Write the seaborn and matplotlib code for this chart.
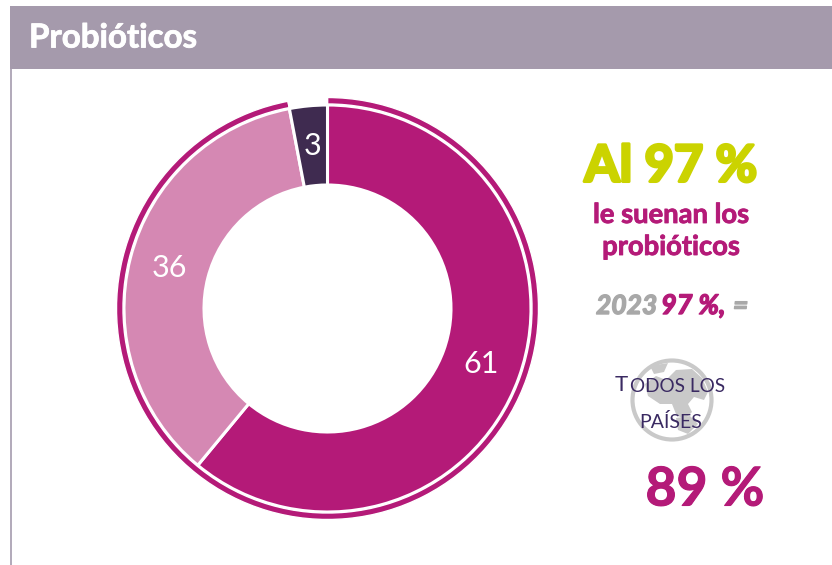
import matplotlib
matplotlib.use("Agg")
import matplotlib.pyplot as plt
import matplotlib.patheffects as pe
from matplotlib.patches import Rectangle, Circle, Polygon
import seaborn as sns

sns.set_theme(style="white")
plt.rcParams['font.family'] = ['Lato', 'DejaVu Sans']

# data
segment_labels = ["61", "36", "3"]
segment_values = [61, 36, 3]
segment_colors = ["#b41a78", "#d588b3", "#3f2b50"]
ring_values = [97, 3]
ring_colors = ["#b41a78", "white"]

W, H = 832, 565
fig = plt.figure(figsize=(W / 100, H / 100), dpi=100, facecolor="white")


def heavy(width, color):
    return [pe.withStroke(linewidth=width, foreground=color)]


# page furniture in pixel coordinates
bg = fig.add_axes([0, 0, 1, 1])
bg.set_xlim(0, W)
bg.set_ylim(H, 0)
bg.axis("off")
bg.add_patch(Rectangle((10, 6), W - 10, 63, color="#a59aac", lw=0))
bg.add_patch(Rectangle((10, 69), 2, H - 69, color="#b3abbb", lw=0))
bg.text(29, 38, "Probióticos", color="white", fontsize=23.8, fontweight="bold", va="center", ha="left",
        path_effects=heavy(0.6, "white"))

# globe behind the "todos los paises" text
gray = "#c9c9c9"
bg.add_patch(Circle((672, 400), 39.5, fill=False, ec=gray, lw=3))
bg.add_patch(Polygon([(645, 384), (656, 376), (666, 380), (676, 370), (692, 369), (702, 378), (708, 392),
                      (704, 400), (694, 397), (688, 404), (692, 412), (684, 420), (676, 414), (672, 404),
                      (660, 404), (648, 396)], color=gray, lw=0))
bg.add_patch(Polygon([(676, 418), (690, 416), (698, 424), (688, 434), (678, 430)], color=gray, lw=0))
bg.add_patch(Polygon([(650, 366), (668, 363), (664, 372), (654, 374)], color=gray, lw=0))

# donut
cx, cy, half = 327.5, 308.5, 225
pie_ax = fig.add_axes([(cx - half) / W, 1 - (cy + half) / H, 2 * half / W, 2 * half / H])

wedges, texts = pie_ax.pie(segment_values, colors=segment_colors, radius=203.5, startangle=90, counterclock=False,
                           labels=segment_labels, labeldistance=0.8,
                           wedgeprops=dict(width=80, edgecolor="white", linewidth=2.2), frame=True)
pie_ax.pie(ring_values, colors=ring_colors, radius=211, startangle=90, counterclock=False,
           wedgeprops=dict(width=6.5), frame=True)
for t in texts:
    t.set_color("white")
    t.set_fontsize(22)
    t.set_ha("center")
    t.set_va("center")
pie_ax.set_xlim(-half, half)
pie_ax.set_ylim(-half, half)
pie_ax.set_aspect("equal")
pie_ax.axis("off")

# side text
lime = "#cbd300"
magenta = "#b41a78"
grey_text = "#a8a8a8"
navy = "#3a2a62"
bg.text(671, 167, "Al 97 %", color=lime, fontsize=36.5, fontweight="bold", ha="center", va="center",
        path_effects=heavy(2.2, lime))
bg.text(671, 215, "le suenan los", color=magenta, fontsize=19.7, fontweight="bold", ha="center", va="center",
        path_effects=heavy(0.6, magenta))
bg.text(671, 247, "probióticos", color=magenta, fontsize=19.7, fontweight="bold", ha="center", va="center",
        path_effects=heavy(0.6, magenta))
bg.text(596, 306, "2023", color=grey_text, fontsize=19, fontweight="bold", style="italic", ha="left", va="center",
        path_effects=heavy(1, grey_text))
bg.text(661, 306, "97 %,", color=magenta, fontsize=19.5, fontweight="bold", style="italic", ha="left", va="center",
        path_effects=heavy(1, magenta))
bg.text(733, 306, "=", color=grey_text, fontsize=19, fontweight="bold", style="italic", ha="left", va="center",
        path_effects=heavy(1, grey_text))

bg.text(615, 385, "T", color=navy, fontsize=16, ha="left", va="center")
bg.text(630, 386, "ODOS LOS", color=navy, fontsize=13.7, ha="left", va="center")
bg.text(671, 422, "PAÍSES", color=navy, fontsize=14, ha="center", va="center")
bg.text(705, 490, "89 %", color=magenta, fontsize=38.5, fontweight="bold", ha="center", va="center",
        path_effects=heavy(0.8, magenta))

fig.savefig("out.png", dpi=100, facecolor="white")
